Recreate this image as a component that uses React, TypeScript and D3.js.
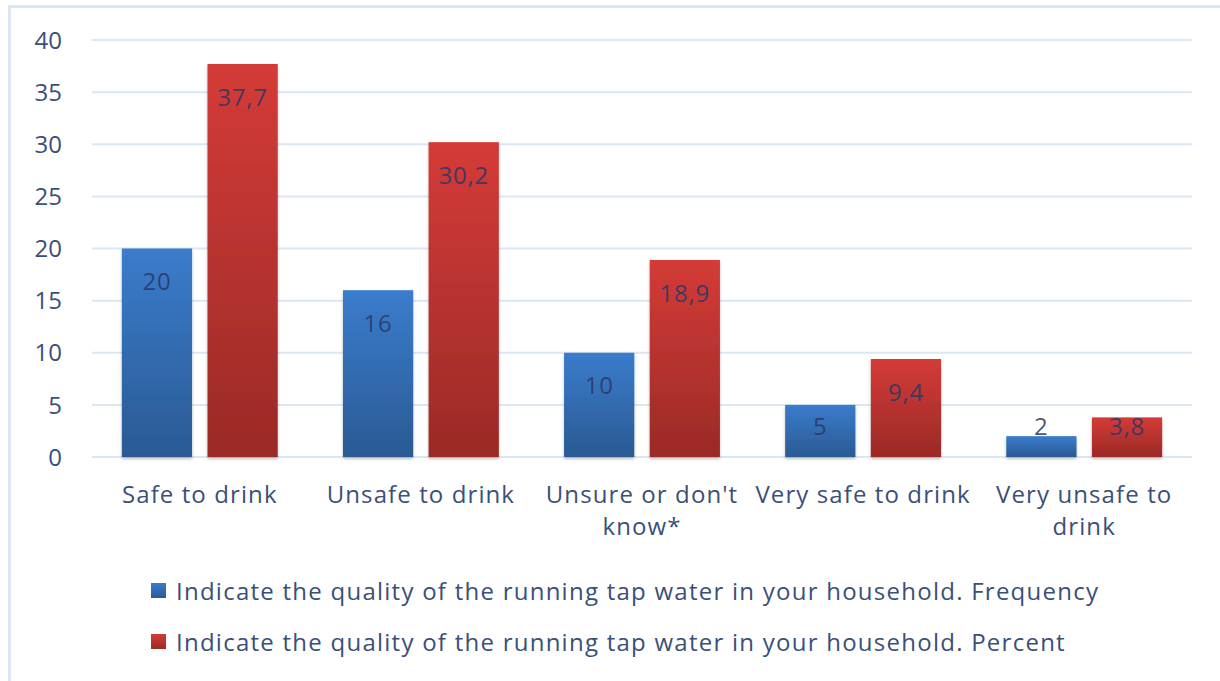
import React from "react";
import * as d3 from "d3";

const categories = [
  ["Safe to drink"],
  ["Unsafe to drink"],
  ["Unsure or don't", "know*"],
  ["Very safe to drink"],
  ["Very unsafe to", "drink"],
];
const frequency = [20, 16, 10, 5, 2];
const percent = [37.7, 30.2, 18.9, 9.4, 3.8];
const yTicks = [0, 5, 10, 15, 20, 25, 30, 35, 40];
const seriesNames = [
  "Indicate the quality of the running tap water in your household. Frequency",
  "Indicate the quality of the running tap water in your household. Percent",
];

const W = 1220,
  H = 681;
const margin = { left: 92, right: 28, top: 40, bottom: 224 };
const font = "Open Sans, Noto Sans, sans-serif";
const textColor = "#3a5078";
const fs = 24;

export default function App() {
  const x0 = d3
    .scaleBand<number>()
    .domain(d3.range(categories.length))
    .range([margin.left, W - margin.right])
    .paddingInner(0.295)
    .paddingOuter(0.135);
  const x1 = d3.scaleBand<number>().domain([0, 1]).range([0, x0.bandwidth()]).paddingInner(0.18);
  const y = d3.scaleLinear().domain([0, 40]).range([H - margin.bottom, margin.top]);

  const series = [frequency, percent];
  const fmt = (v: number) => String(v).replace(".", ",");

  return (
    <svg width={W} height={H} style={{ position: "absolute", left: 0, top: 0 }}>
      <defs>
        <linearGradient id="gBlue" x1="0" y1="0" x2="0" y2="1">
          <stop offset="0" stopColor="#3a7ccc" />
          <stop offset="1" stopColor="#2a5a93" />
        </linearGradient>
        <linearGradient id="gRed" x1="0" y1="0" x2="0" y2="1">
          <stop offset="0" stopColor="#d43b37" />
          <stop offset="1" stopColor="#9a2a27" />
        </linearGradient>
        <filter id="shadow" x="-10%" y="-10%" width="120%" height="130%">
          <feDropShadow dx="0" dy="2" stdDeviation="1.5" floodColor="#000" floodOpacity="0.25" />
        </filter>
      </defs>
      <rect x={0} y={0} width={W} height={H} fill="#fff" />
      <rect x={9.5} y={6.5} width={W + 20} height={H + 20} fill="none" stroke="#dce6f2" strokeWidth={3} />
      {yTicks.map((t) => (
        <g key={t}>
          <line
            x1={margin.left}
            x2={W - margin.right}
            y1={y(t)}
            y2={y(t)}
            stroke="#dde6f3"
            strokeWidth={2}
          />
          <text x={62} y={y(t)} dy="0.36em" textAnchor="end" fontFamily={font} fontSize={fs} fill={textColor}>
            {t}
          </text>
        </g>
      ))}
      {categories.map((c, i) => (
        <g key={i}>
          {series.map((s, j) => {
            const bx = x0(i)! + x1(j)!;
            const by = y(s[i]);
            const cy = Math.min(by + 33, y(0) - 31);
            return (
              <g key={j}>
                <rect
                  x={bx}
                  y={by}
                  width={x1.bandwidth()}
                  height={y(0) - by}
                  fill={j === 0 ? "url(#gBlue)" : "url(#gRed)"}
                  filter="url(#shadow)"
                />
                <text
                  x={bx + x1.bandwidth() / 2}
                  y={cy}
                  dy="0.36em"
                  textAnchor="middle"
                  fontFamily={font}
                  fontSize={fs}
                  letterSpacing={0.8}
                  fill="#2c3766"
                  fillOpacity={0.85}
                >
                  {fmt(s[i])}
                </text>
              </g>
            );
          })}
          {c.map((line, k) => (
            <text
              key={k}
              x={x0(i)! + x0.bandwidth() / 2}
              y={494 + k * 32}
              dy="0.36em"
              textAnchor="middle"
              fontFamily={font}
              fontSize={fs}
              letterSpacing={1.1}
              fill={textColor}
            >
              {line}
            </text>
          ))}
        </g>
      ))}
      {seriesNames.map((n, j) => (
        <g key={n} transform={`translate(151, ${591 + j * 51})`}>
          <rect x={0} y={-8} width={15} height={15} fill={j === 0 ? "url(#gBlue)" : "url(#gRed)"} />
          <text x={25} y={0} dy="0.36em" fontFamily={font} fontSize={fs} letterSpacing={1.25} fill={textColor}>
            {n}
          </text>
        </g>
      ))}
    </svg>
  );
}
